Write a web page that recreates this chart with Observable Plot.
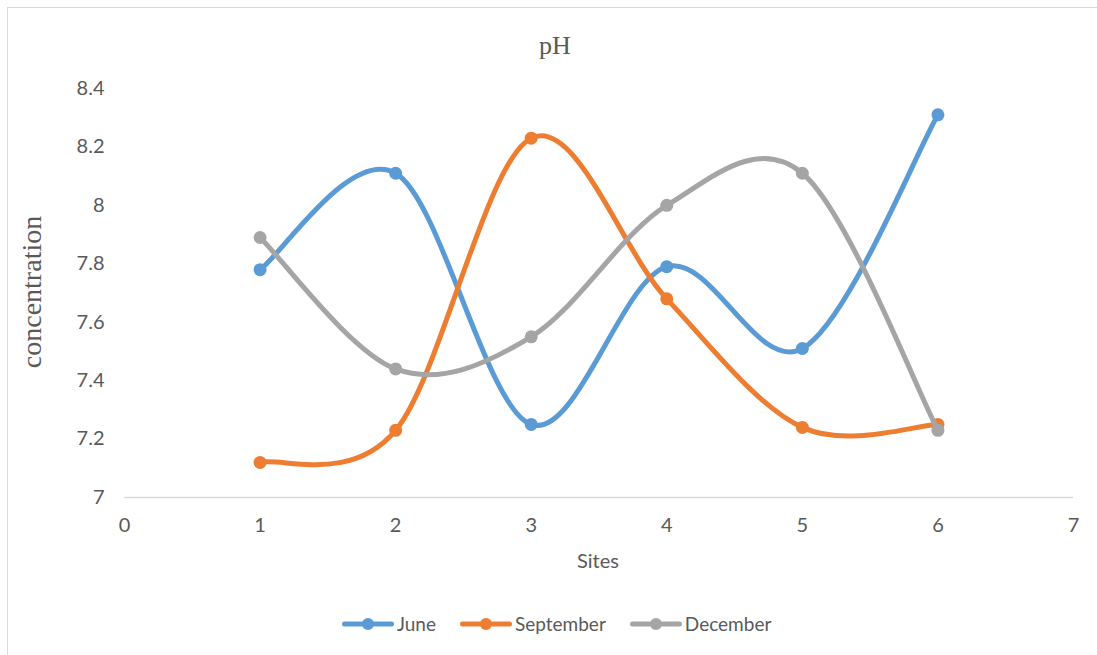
<!DOCTYPE html>
<html>
<head>
<meta charset="utf-8">
<script src="https://cdn.jsdelivr.net/npm/d3@7"></script>
<script src="https://cdn.jsdelivr.net/npm/@observablehq/plot@0.6"></script>
<style>
  body { margin: 0; background: #fff; }
  #chart { position: relative; width: 1097px; height: 655px; overflow: hidden; background: #fff; }
  #frame { position: absolute; left: 7px; top: 7px; width: 2000px; height: 2000px;
           border-left: 1.5px solid #d9d9d9; border-top: 1.5px solid #d9d9d9; box-sizing: border-box; }
  #plot { position: absolute; left: 0; top: 0; }
  .lbl { position: absolute; color: #595959; line-height: 1; white-space: nowrap; transform: translate(-50%, -50%); }
  #title { left: 555px; top: 46px; font-family: "Liberation Serif", "DejaVu Serif", serif; font-size: 26px; }
  #ylabel { left: 32px; top: 292px; font-family: "Liberation Serif", "DejaVu Serif", serif; font-size: 28px;
            transform: translate(-50%, -50%) rotate(-90deg); }
  #xlabel { left: 598px; top: 560px; font-family: Lato, "Open Sans", sans-serif; font-size: 20px; }
  #legend { position: absolute; left: 342px; top: 612px; display: flex; align-items: center;
            font-family: Lato, "Open Sans", sans-serif; font-size: 19px; color: #595959; }
  .item { display: flex; align-items: center; margin-right: 24px; }
  .item svg { margin-right: 3px; }
</style>
</head>
<body>
<div id="chart">
  <div id="frame"></div>
  <div id="plot"></div>
  <div class="lbl" id="title">pH</div>
  <div class="lbl" id="ylabel">concentration</div>
  <div class="lbl" id="xlabel">Sites</div>
  <div id="legend"></div>
</div>
<script>
// Monthly pH readings at the six sampling sites
const sites = [1, 2, 3, 4, 5, 6];
const june = [7.78, 8.11, 7.25, 7.79, 7.51, 8.31];
const september = [7.12, 7.23, 8.23, 7.68, 7.24, 7.25];
const december = [7.89, 7.44, 7.55, 8.00, 8.11, 7.23];

const seriesNames = ["June", "September", "December"];
const seriesColors = ["#5B9BD5", "#ED7D31", "#A5A5A5"];
const xTicks = [0, 1, 2, 3, 4, 5, 6, 7];
const yTicks = [7, 7.2, 7.4, 7.6, 7.8, 8, 8.2, 8.4];

const seriesValues = [june, september, december];
const rows = seriesNames.flatMap((name, k) =>
  sites.map((site, i) => ({ site, value: seriesValues[k][i], series: name }))
);

// Smoothed spline through every point: cubic Bézier segments whose
// tangents are 1/6 of the neighbour-to-neighbour span (ends use the point itself).
function smoothSpline(context) {
  let pts;
  return {
    lineStart() { pts = []; },
    point(x, y) { pts.push([+x, +y]); },
    lineEnd() {
      const n = pts.length;
      if (!n) return;
      context.moveTo(pts[0][0], pts[0][1]);
      for (let i = 0; i < n - 1; i++) {
        const a = pts[Math.max(i - 1, 0)], b = pts[i], c = pts[i + 1], d = pts[Math.min(i + 2, n - 1)];
        context.bezierCurveTo(
          b[0] + (c[0] - a[0]) / 6, b[1] + (c[1] - a[1]) / 6,
          c[0] - (d[0] - b[0]) / 6, c[1] - (d[1] - b[1]) / 6,
          c[0], c[1]
        );
      }
    },
    areaStart() {},
    areaEnd() {}
  };
}

// each series draws its line then its markers, later months on top
const seriesMarks = seriesNames.flatMap(name => {
  const data = rows.filter(d => d.series === name);
  return [
    Plot.line(data, { x: "site", y: "value", stroke: "series", strokeWidth: 5,
                      curve: smoothSpline, strokeLinecap: "round", strokeLinejoin: "round" }),
    Plot.dot(data, { x: "site", y: "value", fill: "series", r: 6.5 })
  ];
});

const chart = Plot.plot({
  width: 1097,
  height: 655,
  marginLeft: 124,
  marginRight: 24,
  marginTop: 88,
  marginBottom: 158,
  style: { fontFamily: 'Lato, "Open Sans", sans-serif', fontSize: "20px", color: "#595959", background: "transparent" },
  x: { domain: [0, 7], ticks: xTicks, tickSize: 0, tickPadding: 20, label: null, tickFormat: d => String(d) },
  y: { domain: [7, 8.4], ticks: yTicks, tickSize: 0, tickPadding: 20, label: null, tickFormat: d => String(d) },
  color: { domain: seriesNames, range: seriesColors },
  marks: [
    Plot.ruleY([7], { stroke: "#d9d9d9", strokeWidth: 1.5 }),
    ...seriesMarks
  ]
});
document.getElementById("plot").appendChild(chart);

// legend: line-and-marker swatch followed by the month name
const legend = d3.select("#legend");
seriesNames.forEach((name, k) => {
  const item = legend.append("div").attr("class", "item");
  const sw = item.append("svg").attr("width", 52).attr("height", 14);
  sw.append("line").attr("x1", 2.5).attr("x2", 49.5).attr("y1", 7).attr("y2", 7)
    .attr("stroke", seriesColors[k]).attr("stroke-width", 5).attr("stroke-linecap", "round");
  sw.append("circle").attr("cx", 26).attr("cy", 7).attr("r", 6).attr("fill", seriesColors[k]);
  item.append("span").text(name);
});
</script>
</body>
</html>
